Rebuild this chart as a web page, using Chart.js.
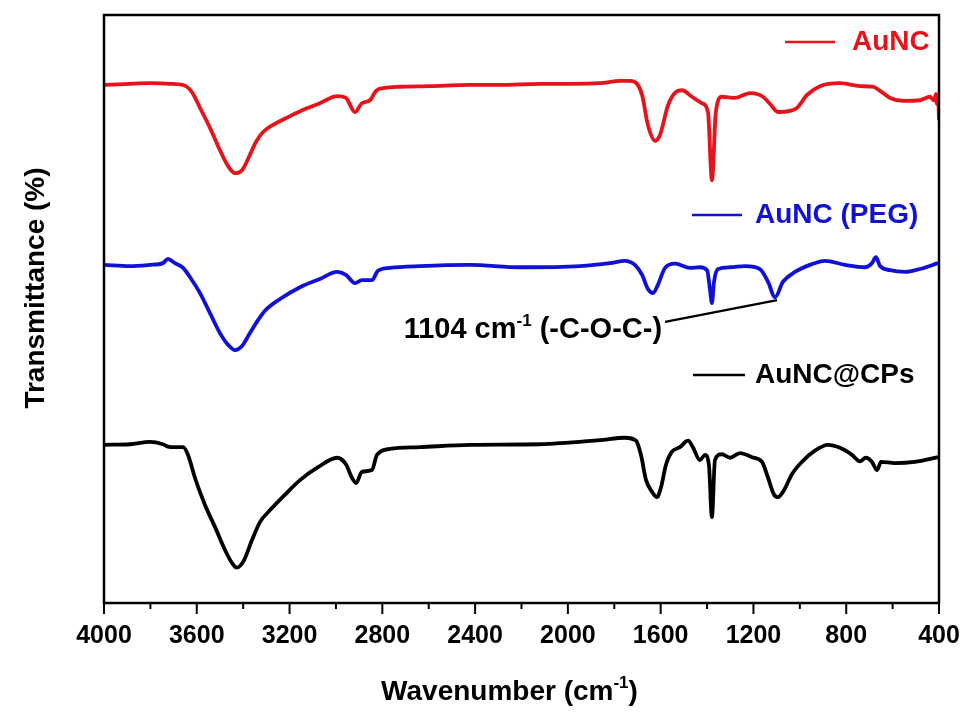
<!DOCTYPE html>
<html><head><meta charset="utf-8">
<script src="https://cdn.jsdelivr.net/npm/chart.js@4"></script>
<style>html,body{margin:0;padding:0;background:#fff}#wrap{width:967px;height:713px}</style>
</head><body><div id="wrap"><canvas id="c" width="967" height="713"></canvas></div>
<script>
// ---- data (wavenumber in cm^-1, transmittance in arbitrary offset units) ----
const seriesNames = ['AuNC', 'AuNC (PEG)', 'AuNC@CPs'];
const seriesColors = ['#e8121a', '#1010d6', '#000000'];

const auncWave = [4000,3888,3802,3715,3659,3621,3586,3543,3500,3465,3435,3405,3371,3345,3314,3263,3198,3133,3069,2995,2957,2918,2888,2853,2827,2789,2724,2595,2422,2293,2120,1991,1862,1775,1732,1702,1680,1655,1624,1603,1568,1534,1508,1465,1422,1396,1379,1362,1336,1280,1215,1159,1129,1094,1042,1012,969,913,827,741,685,654,611,555,482,439,422,413,409,404,400];
const auncT = [88.1,88.3,88.4,88.3,88.1,86.9,84.2,80.8,77.0,74.3,73.1,73.6,76.2,78.4,80.1,81.5,82.8,84.0,85.0,86.2,85.9,83.5,85.0,85.5,87.1,87.6,87.8,87.9,88.1,88.1,88.3,88.3,88.4,88.8,88.8,88.3,86.4,81.3,78.6,79.6,84.7,86.9,87.2,86.1,85.0,83.5,71.9,83.5,86.1,85.9,86.7,86.1,84.9,83.5,83.7,84.2,86.4,87.9,88.4,87.9,87.8,87.1,85.9,85.4,85.5,86.1,85.5,86.6,84.9,86.2,82.1];

const pegWave = [4000,3888,3802,3746,3724,3694,3659,3629,3586,3543,3500,3465,3435,3405,3371,3336,3306,3241,3155,3069,2995,2957,2918,2888,2845,2819,2767,2638,2422,2206,1948,1818,1754,1711,1680,1655,1633,1612,1581,1538,1474,1431,1400,1387,1379,1370,1353,1301,1236,1172,1137,1107,1073,1021,956,891,805,719,689,672,654,611,547,482,404];
const pegT = [57.5,57.3,57.5,57.8,58.5,57.8,57.0,55.4,52.7,49.3,45.9,43.9,43.0,43.7,45.9,48.1,49.7,51.7,53.7,55.1,56.3,55.8,54.4,54.9,54.9,56.5,57.0,57.3,57.5,57.1,57.3,57.8,58.2,57.5,55.8,53.4,52.7,54.1,57.0,57.7,57.0,57.1,56.6,53.2,51.0,54.6,56.8,57.1,57.3,56.8,54.6,52.0,54.6,56.3,57.5,58.2,57.5,57.1,57.8,58.8,57.3,56.6,56.3,56.8,57.8];

const cpsWave = [4000,3888,3802,3746,3724,3694,3659,3638,3608,3565,3521,3478,3448,3427,3396,3362,3327,3284,3220,3155,3077,2995,2957,2931,2913,2888,2845,2823,2767,2638,2422,2120,1862,1754,1706,1685,1663,1637,1616,1599,1577,1552,1517,1482,1461,1431,1409,1392,1379,1366,1336,1301,1258,1206,1163,1137,1111,1094,1068,1034,991,935,879,827,775,741,715,689,667,650,590,504,404];
const cpsT = [26.9,27.0,27.4,27.0,26.6,26.5,26.5,25.2,21.3,16.7,12.9,9.0,6.8,6.0,7.3,10.7,13.8,15.8,18.4,20.9,23.1,24.7,23.6,21.3,20.4,22.3,22.6,25.2,26.2,26.5,26.9,27.0,27.7,28.1,27.6,25.2,20.9,18.9,18.0,19.6,23.5,25.7,26.5,27.6,26.5,24.3,25.2,23.5,14.6,24.3,25.3,24.7,25.5,24.8,24.0,21.3,18.4,18.0,19.2,21.9,24.0,25.9,26.9,26.4,25.2,24.1,24.7,24.0,22.6,24.0,23.8,24.0,24.8];

const majorTicks = [4000,3600,3200,2800,2400,2000,1600,1200,800,400];
const minorTicks = [3800,3400,3000,2600,2200,1800,1400,1000,600];
const xTitle = ['Wavenumber (cm', '-1', ')'];
const yTitle = 'Transmittance (%)';
const noteText = ['1104 cm', '-1', ' (-C-O-C-)'];
const notePoints = [[1581, 47.8], [1098, 51.5]];

// ---- build ----
const FONT = "'Liberation Sans', Arial, sans-serif";
function pts(w, t) { return w.map((x, i) => ({x: x, y: t[i]})); }
const seriesData = [pts(auncWave, auncT), pts(pegWave, pegT), pts(cpsWave, cpsT)];

function drawParts(ctx, parts, x, y, size, align) {
  const sup = Math.round(size * 0.6);
  const widths = parts.map((p, i) => {
    ctx.font = 'bold ' + (i === 1 ? sup : size) + 'px ' + FONT;
    return ctx.measureText(p).width;
  });
  const total = widths.reduce((a, b) => a + b, 0);
  let cx = align === 'right' ? x - total : (align === 'center' ? x - total / 2 : x);
  ctx.textAlign = 'left';
  ctx.textBaseline = 'alphabetic';
  parts.forEach((p, i) => {
    ctx.font = 'bold ' + (i === 1 ? sup : size) + 'px ' + FONT;
    ctx.fillText(p, cx, i === 1 ? y - size * 0.42 : y);
    cx += widths[i];
  });
}

const decor = {
  id: 'decor',
  afterDraw(chart) {
    const ctx = chart.ctx, a = chart.chartArea;
    const xs = chart.scales.x, ys = chart.scales.y;
    ctx.save();
    ctx.strokeStyle = '#000';
    ctx.fillStyle = '#000';
    ctx.lineWidth = 2.5;
    ctx.strokeRect(a.left, a.top, a.right - a.left, a.bottom - a.top);
    ctx.lineWidth = 2;
    majorTicks.forEach(v => {
      const px = xs.getPixelForValue(v);
      ctx.beginPath(); ctx.moveTo(px, a.bottom); ctx.lineTo(px, a.bottom + 11); ctx.stroke();
    });
    minorTicks.forEach(v => {
      const px = xs.getPixelForValue(v);
      ctx.beginPath(); ctx.moveTo(px, a.bottom); ctx.lineTo(px, a.bottom + 6); ctx.stroke();
    });
    drawParts(ctx, xTitle, (a.left + a.right) / 2 - 12, 700, 28, 'center');
    ctx.save();
    ctx.translate(36, 288);
    ctx.rotate(-Math.PI / 2);
    ctx.font = 'bold 28px ' + FONT;
    ctx.textAlign = 'center';
    ctx.textBaseline = 'middle';
    ctx.fillText(yTitle, 0, 0);
    ctx.restore();
    const leg = [[785, 835, 852, 42], [692, 742, 755, 215], [693, 745, 755, 375]];
    chart.data.datasets.forEach((ds, i) => {
      const L = leg[i];
      ctx.strokeStyle = ds.borderColor;
      ctx.lineWidth = 2.5;
      ctx.beginPath(); ctx.moveTo(L[0], L[3]); ctx.lineTo(L[1], L[3]); ctx.stroke();
      ctx.fillStyle = ds.borderColor;
      ctx.font = 'bold 28px ' + FONT;
      ctx.textAlign = 'left';
      ctx.textBaseline = 'middle';
      ctx.fillText(ds.label, L[2], L[3]);
    });
    const p0 = [xs.getPixelForValue(notePoints[0][0]), ys.getPixelForValue(notePoints[0][1])];
    const p1 = [xs.getPixelForValue(notePoints[1][0]), ys.getPixelForValue(notePoints[1][1])];
    ctx.strokeStyle = '#000';
    ctx.lineWidth = 2.2;
    ctx.beginPath(); ctx.moveTo(p0[0], p0[1]); ctx.lineTo(p1[0], p1[1]); ctx.stroke();
    ctx.fillStyle = '#000';
    drawParts(ctx, noteText, p0[0] - 3, p0[1] + 16, 29, 'right');
    ctx.restore();
  }
};

new Chart(document.getElementById('c'), {
  type: 'line',
  data: {
    datasets: seriesNames.map((n, i) => ({
      label: n,
      data: seriesData[i],
      borderColor: seriesColors[i],
      backgroundColor: seriesColors[i],
      borderWidth: 3.8,
      pointRadius: 0,
      cubicInterpolationMode: 'monotone',
      fill: false
    }))
  },
  options: {
    responsive: false,
    animation: false,
    devicePixelRatio: 1,
    layout: { padding: { top: 15, right: 28, left: 0, bottom: 0 } },
    plugins: { legend: { display: false }, tooltip: { enabled: false } },
    scales: {
      x: {
        type: 'linear', reverse: true, min: 400, max: 4000,
        afterBuildTicks: s => { s.ticks = majorTicks.map(v => ({value: v})); },
        ticks: { color: '#000', font: { family: FONT, size: 25, weight: 'bold' }, padding: 18, maxRotation: 0, autoSkip: false,
                 callback: v => String(v) },
        grid: { display: false, drawTicks: false },
        border: { display: false },
        afterFit: s => { s.height = 110; s.paddingLeft = 0; s.paddingRight = 0; }
      },
      y: {
        min: 0, max: 100,
        ticks: { display: false },
        grid: { display: false, drawTicks: false },
        border: { display: false },
        afterFit: s => { s.width = 104; s.paddingTop = 0; s.paddingBottom = 0; }
      }
    }
  },
  plugins: [decor]
});
</script>
</body></html>
